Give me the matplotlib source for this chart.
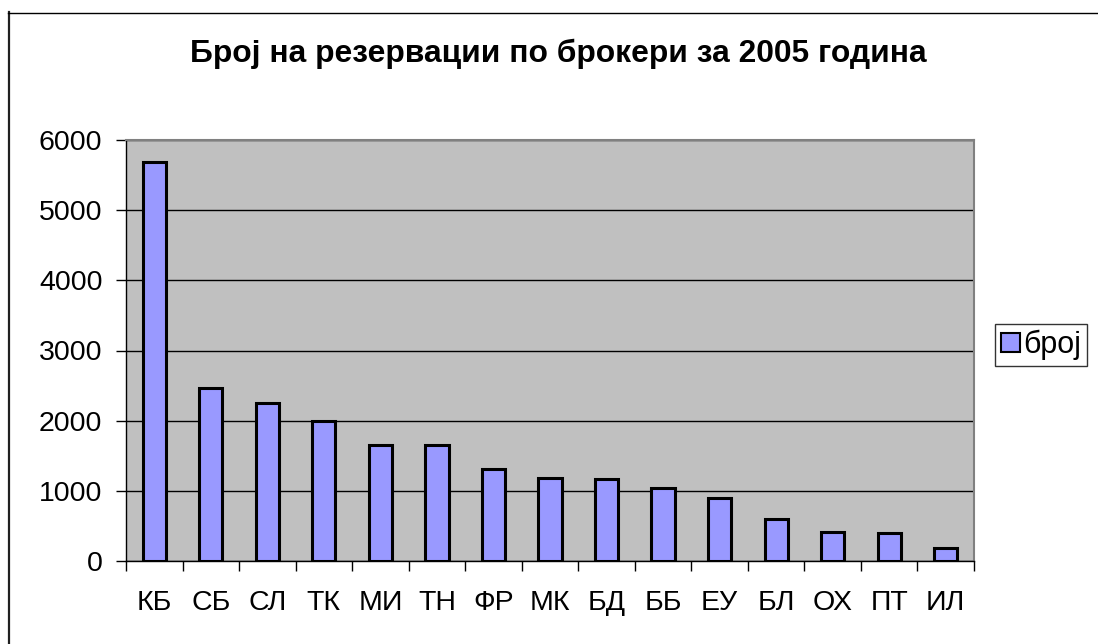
import matplotlib
matplotlib.use("Agg")
import matplotlib.pyplot as plt
from matplotlib.lines import Line2D
from matplotlib.ticker import FixedLocator, MultipleLocator

categories = ["КБ", "СБ", "СЛ", "ТК", "МИ", "ТН", "ФР", "МК", "БД", "ББ", "ЕУ", "БЛ", "ОХ", "ПТ", "ИЛ"]
values = [5680, 2470, 2245, 2000, 1660, 1660, 1310, 1190, 1175, 1035, 895, 605, 415, 400, 185]
series_name = "број"
title = "Број на резервации по брокери за 2005 година"

plt.rcParams['font.family'] = ['Liberation Sans', 'DejaVu Sans']

W, H = 1098, 644
fig = plt.figure(figsize=(W/100, H/100), dpi=100)
fig.patch.set_facecolor('white')
# outer chart border (left and top visible; right/bottom cropped off)
fig.add_artist(Line2D([8.5/W, 8.5/W], [0, 1-12/H], transform=fig.transFigure,
                      color='#202020', linewidth=1.6))
fig.add_artist(Line2D([8/W, 1], [1-12.5/H, 1-12.5/H], transform=fig.transFigure,
                      color='black', linewidth=1.0))

ax = fig.add_axes([126/W, 1-561/H, 848/W, 421/H])
ax.set_facecolor('#C0C0C0')
x = list(range(len(categories)))
bars = ax.bar(x, values, width=0.41, color='#9999FF', edgecolor='black', linewidth=2.2,
              zorder=3, label=series_name)
ax.set_xlim(-0.5, len(categories)-0.5)
ax.set_ylim(0, 6000)
ax.yaxis.set_major_locator(MultipleLocator(1000))
ax.grid(axis='y', color='black', linewidth=1.0, zorder=1)
ax.set_xticks(x)
ax.set_xticklabels(categories, fontsize=20.5)
ax.tick_params(axis='x', which='major', length=0, pad=21)
ax.xaxis.set_minor_locator(FixedLocator([i - 0.5 for i in range(len(categories)+1)]))
ax.tick_params(axis='x', which='minor', length=7, width=1, color='black', direction='out')
ax.tick_params(axis='y', length=7, width=1, labelsize=20.5, pad=10)
for s in ['top', 'right']:
    ax.spines[s].set_color('#808080')
    ax.spines[s].set_linewidth(1.5)
for s in ['left', 'bottom']:
    ax.spines[s].set_color('black')
    ax.spines[s].set_linewidth(1.0)

fig.text(558.5/W, 1-54/H, title, ha='center', va='center', fontsize=22.9, fontweight='bold')

leg = fig.legend(handles=[bars], labels=[series_name], loc='center left',
                 bbox_to_anchor=(995/W, 1-345/H), fontsize=22, frameon=True,
                 fancybox=False, edgecolor='black', handlelength=0.62, handleheight=0.62,
                 handletextpad=0.1, borderpad=0.2, borderaxespad=0)
leg.get_frame().set_linewidth(1.0)
for h in leg.legend_handles:
    h.set_linewidth(1.5)

fig.savefig('out.png', dpi=100)
